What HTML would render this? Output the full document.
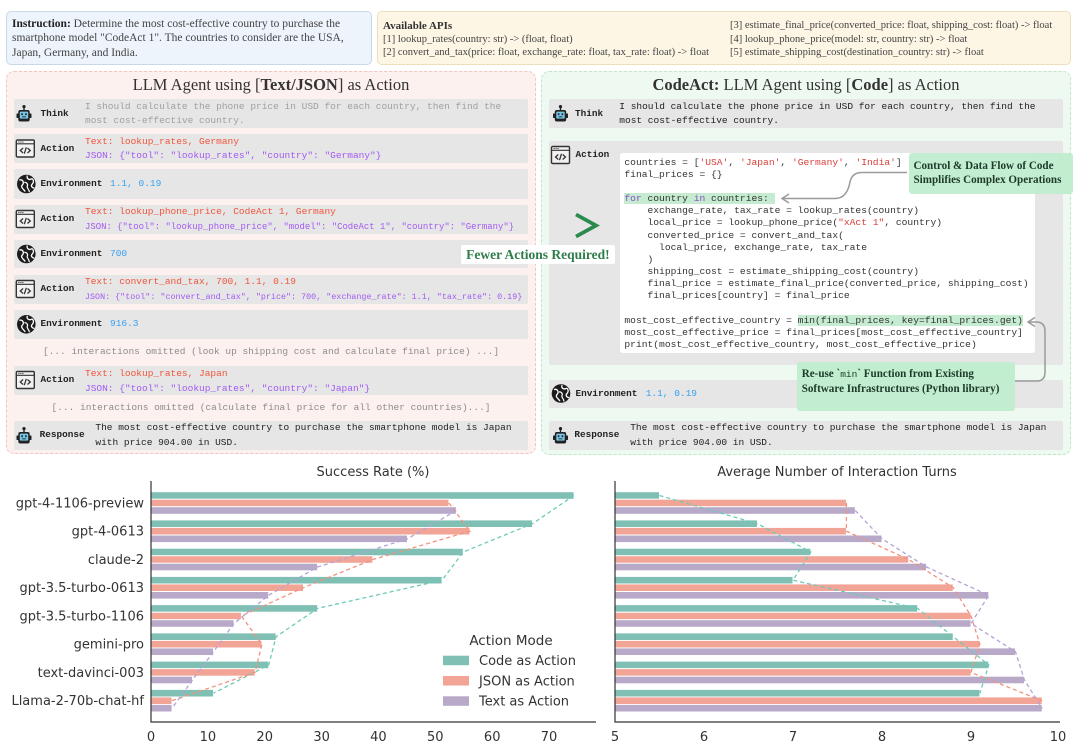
<!DOCTYPE html>
<html><head><meta charset="utf-8">
<style>
*{margin:0;padding:0;box-sizing:border-box}
body{width:1080px;height:746px;background:#fff;position:relative;overflow:hidden;font-family:"Liberation Serif",serif}
.a{position:absolute;white-space:pre}
.m{font-family:"Liberation Mono",monospace;font-size:9.5px;line-height:14px}
.lb{font-family:"Liberation Mono",monospace;font-size:9.4px;font-weight:bold;line-height:14px;color:#222}
.row{position:absolute;background:#e6e6e6;border-radius:2px}
.red{color:#f0553c}.pur{color:#a25af2}.blu{color:#35a0f2}
.api{font-size:10.5px;line-height:13.2px;color:#444}
.co{position:absolute;background:rgba(190,237,205,0.93);border-radius:3px;font-weight:bold;color:#1d3a2a;white-space:pre}
</style></head><body>

<!-- Instruction -->
<div class="a" style="left:6px;top:11px;width:366px;height:54px;background:#edf4fc;border:1.5px solid #c8d9ea;border-radius:5px"></div>
<div class="a" style="left:12px;top:16.8px;font-size:11.5px;line-height:14.6px;color:#444"><b style="color:#222">Instruction:</b> Determine the most cost-effective country to purchase the
smartphone model "CodeAct 1". The countries to consider are the USA,
Japan, Germany, and India.</div>

<!-- APIs -->
<div class="a" style="left:377px;top:11px;width:694px;height:54px;background:#fdf6e5;border:1.5px solid #ecdfbf;border-radius:5px"></div>
<div class="a" style="left:383px;top:18.5px;font-size:11px;line-height:14px;font-weight:bold;color:#333">Available APIs</div>
<div class="a api" style="left:383px;top:32.7px">[1] lookup_rates(country: str) -&gt; (float, float)
[2] convert_and_tax(price: float, exchange_rate: float, tax_rate: float) -&gt; float</div>
<div class="a api" style="left:730px;top:19.4px">[3] estimate_final_price(converted_price: float, shipping_cost: float) -&gt; float
[4] lookup_phone_price(model: str, country: str) -&gt; float
[5] estimate_shipping_cost(destination_country: str) -&gt; float</div>

<!-- Left panel -->
<div class="a" style="left:6px;top:71px;width:530px;height:383px;background:#fdf1f0;border:1.5px dashed #f1c6c1;border-radius:8px"></div>
<div class="a" style="left:6px;top:75px;width:530px;text-align:center;font-size:16.5px;line-height:20px;color:#333">LLM Agent using [<b>Text/JSON</b>] as Action</div>

<div class="row" style="left:14px;top:99px;width:514px;height:29px"></div>
<div class="row" style="left:14px;top:134px;width:514px;height:29px"></div>
<div class="row" style="left:14px;top:169px;width:514px;height:29.5px"></div>
<div class="row" style="left:14px;top:205px;width:514px;height:28.5px"></div>
<div class="row" style="left:14px;top:239.5px;width:514px;height:28.5px"></div>
<div class="row" style="left:14px;top:274.5px;width:514px;height:29px"></div>
<div class="row" style="left:14px;top:310px;width:514px;height:28.5px"></div>
<div class="row" style="left:14px;top:366px;width:514px;height:28.5px"></div>
<div class="row" style="left:14px;top:421px;width:514px;height:28.5px"></div>

<div class="a lb" style="left:40.5px;top:106.5px">Think</div>
<div class="a m" style="left:85px;top:99.7px;color:#a0a0a0">I should calculate the phone price in USD for each country, then find the
most cost-effective country.</div>

<div class="a lb" style="left:40.5px;top:141.5px">Action</div>
<div class="a m" style="left:85px;top:134.7px;line-height:14.3px"><span class="red">Text: lookup_rates, Germany</span>
<span class="pur">JSON: {"tool": "lookup_rates", "country": "Germany"}</span></div>

<div class="a lb" style="left:40.5px;top:176.7px">Environment</div>
<div class="a m blu" style="left:110px;top:176.7px">1.1, 0.19</div>

<div class="a lb" style="left:40.5px;top:212px">Action</div>
<div class="a m red" style="left:85px;top:204.7px">Text: lookup_phone_price, CodeAct 1, Germany</div>
<div class="a m pur" style="left:85px;top:219.7px;font-size:8.95px">JSON: {"tool": "lookup_phone_price", "model": "CodeAct 1", "country": "Germany"}</div>

<div class="a lb" style="left:40.5px;top:247px">Environment</div>
<div class="a m blu" style="left:110px;top:247px">700</div>

<div class="a lb" style="left:40.5px;top:282px">Action</div>
<div class="a m red" style="left:85px;top:275px">Text: convert_and_tax, 700, 1.1, 0.19</div>
<div class="a m pur" style="left:85px;top:289.7px;font-size:8.4px">JSON: {"tool": "convert_and_tax", "price": 700, "exchange_rate": 1.1, "tax_rate": 0.19}</div>

<div class="a lb" style="left:40.5px;top:317.3px">Environment</div>
<div class="a m blu" style="left:110px;top:317.3px">916.3</div>

<div class="a m" style="left:14px;width:514px;text-align:center;top:345px;color:#8c8c8c">[... interactions omitted (look up shipping cost and calculate final price) ...]</div>

<div class="a lb" style="left:40.5px;top:373px">Action</div>
<div class="a m" style="left:85px;top:366px;line-height:15px"><span class="red">Text: lookup_rates, Japan</span>
<span class="pur">JSON: {"tool": "lookup_rates", "country": "Japan"}</span></div>

<div class="a m" style="left:14px;width:514px;text-align:center;top:401px;color:#8c8c8c">[... interactions omitted (calculate final price for all other countries)...]</div>

<div class="a lb" style="left:39.6px;top:428px">Response</div>
<div class="a m" style="left:95.4px;top:421.3px;line-height:14.4px;color:#222">The most cost-effective country to purchase the smartphone model is Japan
with price 904.00 in USD.</div>

<!-- Right panel -->
<div class="a" style="left:541px;top:71px;width:530px;height:384px;background:#eefaf1;border:1.5px dashed #bfe6c9;border-radius:8px"></div>
<div class="a" style="left:541px;top:75px;width:530px;text-align:center;font-size:16.5px;line-height:20px;color:#333"><b>CodeAct:</b> LLM Agent using [<b>Code</b>] as Action</div>

<div class="row" style="left:549px;top:99px;width:514px;height:29px"></div>
<div class="row" style="left:549px;top:141px;width:514px;height:224px"></div>
<div class="row" style="left:549px;top:379.5px;width:514px;height:28.5px"></div>
<div class="row" style="left:549px;top:421px;width:514px;height:28.5px"></div>

<div class="a lb" style="left:575px;top:106.5px">Think</div>
<div class="a m" style="left:619.3px;top:99.7px;color:#222">I should calculate the phone price in USD for each country, then find the
most cost-effective country.</div>

<div class="a lb" style="left:575.5px;top:148.3px">Action</div>
<div class="a" style="left:620px;top:152.7px;width:415px;height:200.6px;background:#fff;border-radius:3px"></div>
<div class="a" style="left:624.4px;top:156.6px;font-family:'Liberation Mono',monospace;font-size:9.65px;line-height:12.15px;color:#333">countries = [<span style="color:#d9413a">'USA'</span>, <span style="color:#d9413a">'Japan'</span>, <span style="color:#d9413a">'Germany'</span>, <span style="color:#d9413a">'India'</span>]
final_prices = {}

<span style="background:#c5ecd0"><span style="color:#8a4cc8">for</span> country <span style="color:#8a4cc8">in</span> countries: </span>
    exchange_rate, tax_rate = lookup_rates(country)
    local_price = lookup_phone_price(<span style="color:#d9413a">"xAct 1"</span>, country)
    converted_price = convert_and_tax(
      local_price, exchange_rate, tax_rate
    )
    shipping_cost = estimate_shipping_cost(country)
    final_price = estimate_final_price(converted_price, shipping_cost)
    final_prices[country] = final_price

most_cost_effective_country = <span style="background:#c5ecd0">min(final_prices, key=final_prices.get)</span>
most_cost_effective_price = final_prices[most_cost_effective_country]
print(most_cost_effective_country, most_cost_effective_price)</div>

<div class="a lb" style="left:575.5px;top:386.5px">Environment</div>
<div class="a m blu" style="left:645.7px;top:386.5px">1.1, 0.19</div>

<div class="a lb" style="left:574.4px;top:428px">Response</div>
<div class="a m" style="left:630.2px;top:421.3px;line-height:14.4px;color:#222">The most cost-effective country to purchase the smartphone model is Japan
with price 904.00 in USD.</div>

<!-- SVG: icons, arrows, charts -->
<svg class="a" style="left:0;top:0" width="1080" height="746" viewBox="0 0 1080 746" xmlns="http://www.w3.org/2000/svg">
<defs>
<g id="robot">
  <circle cx="7.5" cy="1.6" r="1.6" fill="#222"/>
  <rect x="6.8" y="2.5" width="1.4" height="3" fill="#222"/>
  <rect x="0" y="8.5" width="2.2" height="4.5" rx="0.6" fill="#222"/>
  <rect x="12.8" y="8.5" width="2.2" height="4.5" rx="0.6" fill="#222"/>
  <rect x="1.8" y="5" width="11.4" height="11.5" rx="2" fill="#222"/>
  <rect x="3.3" y="6.6" width="8.4" height="7" rx="1" fill="#79c6e6"/>
  <rect x="4.8" y="8.3" width="1.6" height="1.8" fill="#222"/>
  <rect x="8.6" y="8.3" width="1.6" height="1.8" fill="#222"/>
  <rect x="5.6" y="11.4" width="3.8" height="0.9" fill="#222"/>
</g>
<g id="win">
  <rect x="1" y="1.5" width="18" height="17" rx="1.2" fill="#f2f2f2" stroke="#333" stroke-width="1.4"/>
  <line x1="1" y1="5.3" x2="19" y2="5.3" stroke="#333" stroke-width="1.2"/>
  <circle cx="3.6" cy="3.5" r="0.6" fill="#333"/><circle cx="5.6" cy="3.5" r="0.6" fill="#333"/><circle cx="7.6" cy="3.5" r="0.6" fill="#333"/>
  <polyline points="7.8,9.5 5,12 7.8,14.5" fill="none" stroke="#333" stroke-width="1.3"/>
  <line x1="11" y1="8.8" x2="9" y2="15.2" stroke="#333" stroke-width="1.3"/>
  <polyline points="12.2,9.5 15,12 12.2,14.5" fill="none" stroke="#333" stroke-width="1.3"/>
</g>
<g id="globe">
  <circle cx="0" cy="0" r="9.3" fill="#1c1c1c"/>
  <path d="M-7,-4 C-3,-5 -2,-1 -4,1 C-6,3 -3,5 -1,7.5" fill="none" stroke="#fff" stroke-width="1.3"/>
  <path d="M1,-8.5 C0,-5 3,-4 5,-5 C7,-6 8,-2 6,0 C4,2 6,4 8,4" fill="none" stroke="#fff" stroke-width="1.3"/>
  <path d="M-2,-1.5 C0,-2 2,0 1,2 C0,4 3,5 3,8" fill="none" stroke="#fff" stroke-width="1.2"/>
</g>
</defs>
<use href="#robot" x="16.5" y="105"/>
<use href="#robot" x="16.5" y="427"/>
<use href="#win" x="15.3" y="138.5"/>
<use href="#win" x="15.3" y="209"/>
<use href="#win" x="15.3" y="279"/>
<use href="#win" x="15.3" y="370"/>
<use href="#globe" x="26.3" y="184"/>
<use href="#globe" x="26.3" y="254"/>
<use href="#globe" x="26.3" y="324.3"/>
<use href="#robot" x="553" y="105"/>
<use href="#win" x="550.5" y="145"/>
<use href="#globe" x="561" y="393.5"/>
<use href="#robot" x="553" y="427"/>

<!-- chevron -->
<polyline points="576,214.5 596,225.5 576,236.5" fill="none" stroke="#2b8a4e" stroke-width="3.8" stroke-linejoin="miter"/>

<!-- arrows -->
<path d="M907,172.5 L862,172.5 Q852,172.5 850,182 Q847,198.5 835,198.5 L783,198.5" fill="none" stroke="#9a9a9a" stroke-width="1.5"/>
<polyline points="789,194 782,198.5 789,203" fill="none" stroke="#9a9a9a" stroke-width="1.5"/>
<path d="M1015,381 L1037,381 Q1045,381 1045,372 L1045,331 Q1045,322 1036,322 L1029,322" fill="none" stroke="#9a9a9a" stroke-width="1.5"/>
<polyline points="1035,317.5 1028,322 1035,326.5" fill="none" stroke="#9a9a9a" stroke-width="1.5"/>

<!-- ===== Left chart ===== -->
<g font-family="DejaVu Sans, sans-serif" fill="#333" font-size="13">
<text x="373" y="476" text-anchor="middle">Success Rate (%)</text>
<text x="837" y="476" text-anchor="middle">Average Number of Interaction Turns</text>
</g>
<g stroke="#fff" stroke-width="0.9">
<g fill="#7fbfb4">
<rect x="151" y="491.75" width="423.0" height="7.5"/>
<rect x="151" y="519.95" width="381.5" height="7.5"/>
<rect x="151" y="548.25" width="312.2" height="7.5"/>
<rect x="151" y="576.45" width="291.1" height="7.5"/>
<rect x="151" y="604.65" width="166.6" height="7.5"/>
<rect x="151" y="632.95" width="125.1" height="7.5"/>
<rect x="151" y="661.15" width="117.7" height="7.5"/>
<rect x="151" y="689.45" width="62.5" height="7.5"/>
</g>
<g fill="#f2a596">
<rect x="151" y="499.25" width="297.9" height="7.5"/>
<rect x="151" y="527.45" width="319.0" height="7.5"/>
<rect x="151" y="555.75" width="221.8" height="7.5"/>
<rect x="151" y="583.95" width="152.4" height="7.5"/>
<rect x="151" y="612.25" width="90.4" height="7.5"/>
<rect x="151" y="640.45" width="110.9" height="7.5"/>
<rect x="151" y="668.65" width="104.1" height="7.5"/>
<rect x="151" y="696.95" width="21.0" height="7.5"/>
</g>
<g fill="#b8a9c9">
<rect x="151" y="506.75" width="305.3" height="7.5"/>
<rect x="151" y="535.05" width="256.4" height="7.5"/>
<rect x="151" y="563.25" width="166.6" height="7.5"/>
<rect x="151" y="591.55" width="117.7" height="7.5"/>
<rect x="151" y="619.75" width="83.0" height="7.5"/>
<rect x="151" y="647.95" width="62.5" height="7.5"/>
<rect x="151" y="676.25" width="41.5" height="7.5"/>
<rect x="151" y="704.45" width="21.0" height="7.5"/>
</g>
<!-- right chart bars -->
<g fill="#7fbfb4">
<rect x="615" y="491.75" width="44.5" height="7.5"/>
<rect x="615" y="519.95" width="142.4" height="7.5"/>
<rect x="615" y="548.25" width="195.8" height="7.5"/>
<rect x="615" y="576.45" width="178.0" height="7.5"/>
<rect x="615" y="604.65" width="302.6" height="7.5"/>
<rect x="615" y="632.95" width="338.2" height="7.5"/>
<rect x="615" y="661.15" width="373.8" height="7.5"/>
<rect x="615" y="689.45" width="364.9" height="7.5"/>
</g>
<g fill="#f2a596">
<rect x="615" y="499.25" width="231.4" height="7.5"/>
<rect x="615" y="527.45" width="231.4" height="7.5"/>
<rect x="615" y="555.75" width="293.7" height="7.5"/>
<rect x="615" y="583.95" width="338.2" height="7.5"/>
<rect x="615" y="612.25" width="356.0" height="7.5"/>
<rect x="615" y="640.45" width="364.9" height="7.5"/>
<rect x="615" y="668.65" width="356.0" height="7.5"/>
<rect x="615" y="696.95" width="427.2" height="7.5"/>
</g>
<g fill="#b8a9c9">
<rect x="615" y="506.75" width="240.3" height="7.5"/>
<rect x="615" y="535.05" width="267.0" height="7.5"/>
<rect x="615" y="563.25" width="311.5" height="7.5"/>
<rect x="615" y="591.55" width="373.8" height="7.5"/>
<rect x="615" y="619.75" width="356.0" height="7.5"/>
<rect x="615" y="647.95" width="400.5" height="7.5"/>
<rect x="615" y="676.25" width="409.4" height="7.5"/>
<rect x="615" y="704.45" width="427.2" height="7.5"/>
</g>
</g>

<!-- dashed lines -->
<g fill="none" stroke-width="1.3" stroke-dasharray="4,3">
<polyline stroke="#6ccab8" points="574.0,495.5 532.5,523.7 463.2,552.0 442.1,580.2 317.6,608.4 276.1,636.7 268.7,664.9 213.5,693.2"/>
<polyline stroke="#f4917d" points="448.9,503.0 470.0,531.2 372.8,559.5 303.4,587.7 241.4,616.0 261.9,644.2 255.1,672.4 172.0,700.7"/>
<polyline stroke="#b3a3d8" points="456.3,510.5 407.4,538.8 317.6,567.0 268.7,595.3 234.0,623.5 213.5,651.7 192.5,680.0 172.0,708.2"/>
<polyline stroke="#6ccab8" points="659.5,495.5 757.4,523.7 810.8,552.0 793.0,580.2 917.6,608.4 953.2,636.7 988.8,664.9 979.9,693.2"/>
<polyline stroke="#f4917d" points="846.4,503.0 846.4,531.2 908.7,559.5 953.2,587.7 971.0,616.0 979.9,644.2 971.0,672.4 1042.2,700.7"/>
<polyline stroke="#b3a3d8" points="855.3,510.5 882.0,538.8 926.5,567.0 988.8,595.3 971.0,623.5 1015.5,651.7 1024.4,680.0 1042.2,708.2"/>
</g>

<!-- spines -->
<path d="M151,481 V722 H596" fill="none" stroke="#333" stroke-width="1.2"/>
<path d="M615,481 V722 H1060" fill="none" stroke="#333" stroke-width="1.2"/>

<!-- tick labels -->
<g font-family="DejaVu Sans, sans-serif" fill="#333" font-size="13">
<g text-anchor="end">
<text x="144" y="507.5">gpt-4-1106-preview</text>
<text x="144" y="535.7">gpt-4-0613</text>
<text x="144" y="564">claude-2</text>
<text x="144" y="592.2">gpt-3.5-turbo-0613</text>
<text x="144" y="620.5">gpt-3.5-turbo-1106</text>
<text x="144" y="648.7">gemini-pro</text>
<text x="144" y="676.9">text-davinci-003</text>
<text x="144" y="705.2">Llama-2-70b-chat-hf</text>
</g>
<g text-anchor="middle">
<text x="151" y="741">0</text>
<text x="207.9" y="741">10</text>
<text x="264.7" y="741">20</text>
<text x="321.6" y="741">30</text>
<text x="378.4" y="741">40</text>
<text x="435.3" y="741">50</text>
<text x="492.2" y="741">60</text>
<text x="549" y="741">70</text>
<text x="615" y="741">5</text>
<text x="704" y="741">6</text>
<text x="793" y="741">7</text>
<text x="882" y="741">8</text>
<text x="971" y="741">9</text>
<text x="1058" y="741">10</text>
</g>
<!-- legend -->
<text x="511" y="645" text-anchor="middle" font-size="13.5">Action Mode</text>
<rect x="443" y="655.7" width="26" height="9.5" fill="#7fbfb4"/>
<rect x="443" y="676" width="26" height="9.5" fill="#f2a596"/>
<rect x="443" y="696.3" width="26" height="9.5" fill="#b8a9c9"/>
<text x="479" y="665">Code as Action</text>
<text x="479" y="685.3">JSON as Action</text>
<text x="479" y="705.6">Text as Action</text>
</g>
</svg>

<!-- callouts -->
<div class="co" style="left:908.5px;top:152.5px;width:164px;height:41.5px;padding:6px 0 0 5px;font-size:11.1px;line-height:14.3px">Control &amp; Data Flow of Code
Simplifies Complex Operations</div>
<div class="co" style="left:796.5px;top:361.7px;width:218px;height:49px;padding:5.4px 0 0 5.2px;font-size:11.1px;line-height:14.4px">Re-use `<span style="font-family:'Liberation Mono',monospace;font-weight:normal;font-size:9.5px">min</span>` Function from Existing
Software Infrastructures (Python library)</div>

<div class="a" style="left:460.7px;top:245px;width:154.3px;height:19.3px;background:#fff;border-radius:2px;text-align:center;font-size:13.5px;line-height:19.3px;font-weight:bold;color:#2e7d4a">Fewer Actions Required!</div>

</body></html>
